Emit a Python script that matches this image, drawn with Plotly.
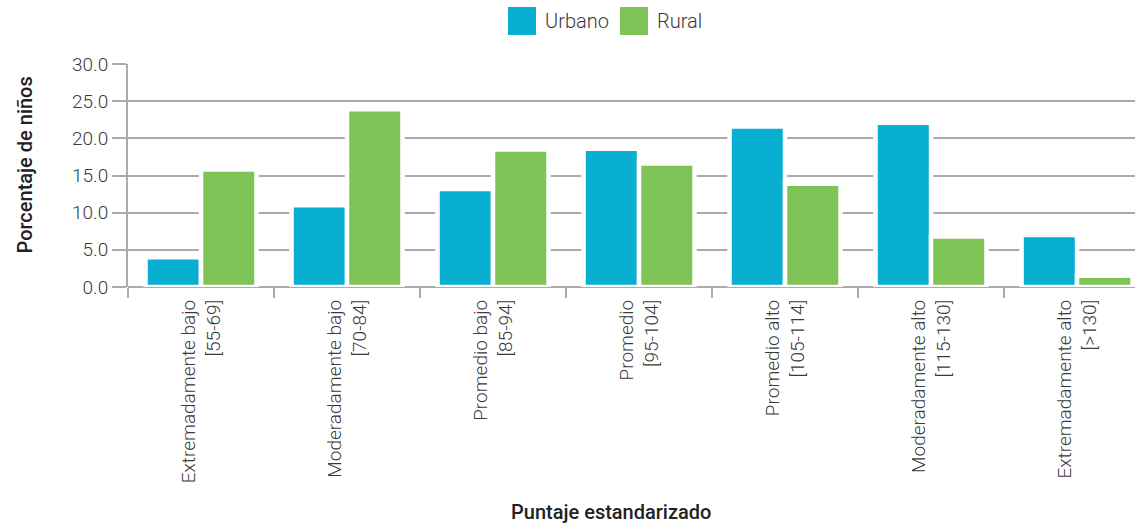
import plotly.graph_objects as go

# --- data ---
categorias = [
    "Extremadamente bajo<br>[55-69]",
    "Moderadamente bajo<br>[70-84]",
    "Promedio bajo<br>[85-94]",
    "Promedio<br>[95-104]",
    "Promedio alto<br>[105-114]",
    "Moderadamente alto<br>[115-130]",
    "Extremadamente alto<br>[>130]",
]
urbano = [4.0, 11.0, 13.2, 18.6, 21.6, 22.1, 7.0]
rural = [15.8, 23.9, 18.5, 16.6, 13.9, 6.8, 1.5]
y_ticks = [0, 5, 10, 15, 20, 25, 30]

COL_URB = "#08AFD0"
COL_RUR = "#7DC356"
GRID = "#ABABAB"
TXT = "#3a3a3a"
FONT = "Roboto"

fig = go.Figure()
fig.add_trace(go.Bar(x=categorias, y=urbano, name="Urbano", marker=dict(color=COL_URB, line=dict(color="white", width=4.5))))
fig.add_trace(go.Bar(x=categorias, y=rural, name="Rural", marker=dict(color=COL_RUR, line=dict(color="white", width=4.5))))

fig.update_layout(
    width=1138, height=525,
    margin=dict(l=128, r=3, t=64, b=238),
    plot_bgcolor="white", paper_bgcolor="white",
    barmode="group", bargap=0.24, bargroupgap=0.0,
    showlegend=False,
    font=dict(family=FONT, color=TXT, size=19),
)
fig.update_yaxes(
    range=[0, 30], tickvals=y_ticks, tickformat=".1f",
    showgrid=True, gridcolor=GRID, gridwidth=2,
    zeroline=True, zerolinecolor=GRID, zerolinewidth=2,
    ticks="outside", ticklen=14, tickcolor=GRID, tickwidth=2,
    showline=True, linecolor=GRID, linewidth=2,
    tickfont=dict(family=FONT, size=19, color=TXT, weight=300),
)
fig.update_xaxes(
    range=[-0.5, 6.397], tickson="boundaries",
    ticks="outside", ticklen=10, tickcolor=GRID, tickwidth=2,
    showline=False, showgrid=False, tickangle=-90, ticklabelstandoff=8,
    tickfont=dict(family=FONT, size=19, color=TXT, weight=300),
)

# axis titles
fig.add_annotation(text="Puntaje estandarizado", xref="paper", yref="paper",
                   x=(611 - 128) / 1007, y=0, yshift=-225, xanchor="center", yanchor="middle",
                   showarrow=False, font=dict(family=FONT, size=20, color="#222", weight=500))
fig.add_annotation(text="Porcentaje de niños", xref="paper", yref="paper",
                   x=0, xshift=-104, y=0.5, yshift=10, xanchor="center", yanchor="middle",
                   textangle=-90, showarrow=False,
                   font=dict(family=FONT, size=20, color="#222", weight=500))

# legend drawn by hand (large square swatches)
legend_items = [("Urbano", COL_URB, 508), ("Rural", COL_RUR, 620)]
for name, col, px0 in legend_items:
    x0 = (px0 - 128) / 1007
    x1 = (px0 + 28 - 128) / 1007
    fig.add_shape(type="rect", xref="paper", yref="paper", x0=x0, x1=x1,
                  y0=(287 - 35) / 223, y1=(287 - 7) / 223,
                  fillcolor=col, line=dict(width=0))
    fig.add_annotation(text=name, xref="paper", yref="paper", x=x1, xshift=7,
                       y=(287 - 21) / 223, xanchor="left", yanchor="middle", showarrow=False,
                       font=dict(family=FONT, size=20, color=TXT, weight=300))

fig.write_html("out.html", config={"displayModeBar": False},
               post_script="document.body.style.margin='0';")
